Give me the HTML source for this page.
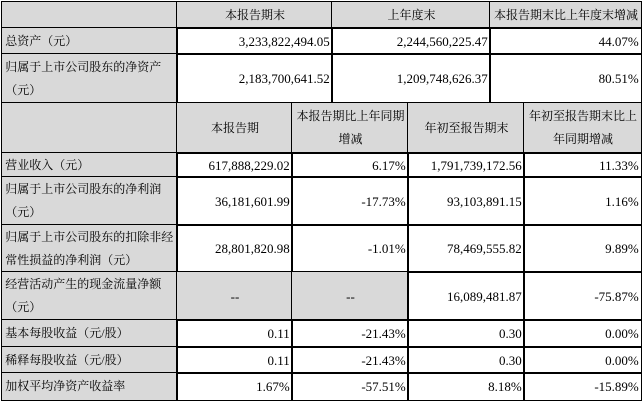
<!DOCTYPE html>
<html><head><meta charset="utf-8"><style>
body{margin:0;width:643px;height:403px;background:#fff;position:relative;overflow:hidden;font-family:"Liberation Serif","Noto Serif CJK SC",serif;font-size:13px;color:#000}
.c{position:absolute;box-sizing:border-box;border:1.5px solid #000;margin:-0.75px 0 0 -0.75px;display:flex;align-items:center;line-height:23px;padding:0 2px 0 3px}
.c span{white-space:nowrap;display:block}
.k{font-size:12px}
.g{background:#d9d9d9}
.l{justify-content:flex-start;text-align:left}
.r{justify-content:flex-end;text-align:right}
.m{justify-content:center;text-align:center}
</style></head><body>
<div id="t"></div>
<script>
const U=[2,177,332,490,641],L=[2,177,292,408,524,641];
const rows=[
 [2,28,U,[["","g l"],["本报告期末","g m k"],["上年度末","g m k"],["本报告期末比上年度末增减","g m k"]]],
 [28,54,U,[["总资产（元）","g l k"],["3,233,822,494.05","r"],["2,244,560,225.47","r"],["44.07%","r"]]],
 [54,103,U,[["归属于上市公司股东的净资产<br>（元）","g l k"],["2,183,700,641.52","r"],["1,209,748,626.37","r"],["80.51%","r"]]],
 [103,153,L,[["","g l"],["本报告期","g m k"],["本报告期比上年同期<br>增减","g m k"],["年初至报告期末","g m k"],["年初至报告期末比上<br>年同期增减","g m k"]]],
 [153,177,L,[["营业收入（元）","g l k"],["617,888,229.02","r"],["6.17%","r"],["1,791,739,172.56","r"],["11.33%","r"]]],
 [177,225,L,[["归属于上市公司股东的净利润<br>（元）","g l k"],["36,181,601.99","r"],["-17.73%","r"],["93,103,891.15","r"],["1.16%","r"]]],
 [225,272,L,[["归属于上市公司股东的扣除非经<br>常性损益的净利润（元）","g l k"],["28,801,820.98","r"],["-1.01%","r"],["78,469,555.82","r"],["9.89%","r"]]],
 [272,320,L,[["经营活动产生的现金流量净额<br>（元）","g l k"],["--","g m"],["--","g m"],["16,089,481.87","r"],["-75.87%","r"]]],
 [320,347,L,[["基本每股收益（元/股）","g l k"],["0.11","r"],["-21.43%","r"],["0.30","r"],["0.00%","r"]]],
 [347,373,L,[["稀释每股收益（元/股）","g l k"],["0.11","r"],["-21.43%","r"],["0.30","r"],["0.00%","r"]]],
 [373,400,L,[["加权平均净资产收益率","g l k"],["1.67%","r"],["-57.51%","r"],["8.18%","r"],["-15.89%","r"]]]
];
let h="";
for(const [y0,y1,X,cs] of rows){cs.forEach((c,i)=>{h+=`<div class="c ${c[1]}" style="left:${X[i]}px;top:${y0}px;width:${X[i+1]-X[i]+1.5}px;height:${y1-y0+1.5}px"><span>${c[0]}</span></div>`;});}
document.getElementById("t").innerHTML=h;
</script>
</body></html>
